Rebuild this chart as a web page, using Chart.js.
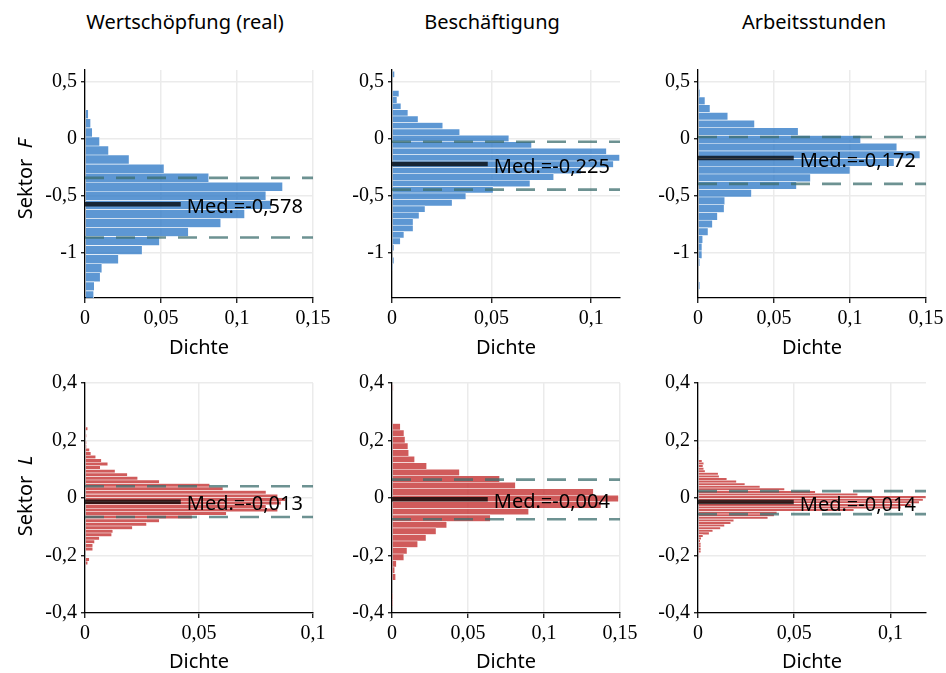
<!DOCTYPE html>
<html>
<head>
<meta charset="utf-8">
<script src="https://cdn.jsdelivr.net/npm/chart.js@4/dist/chart.umd.min.js"></script>
<style>
  html, body { margin: 0; padding: 0; background: #fff; }
  body { width: 946px; height: 673px; position: relative; overflow: hidden; font-family: "Noto Sans", sans-serif; }
  canvas { position: absolute; }
  .ttl { position: absolute; font-size: 20px; color: #000; white-space: nowrap; transform: translate(-50%, -50%); line-height: 1; }
  .row { position: absolute; font-size: 20px; color: #000; white-space: nowrap; transform: translate(-50%, -50%) rotate(-90deg); line-height: 1; }
</style>
</head>
<body>
<script>
// ---------------- DATA ----------------
const columnTitles = ['Wertschöpfung (real)', 'Beschäftigung', 'Arbeitsstunden'];
const rowSectors = ['F', 'L'];
const xAxisLabel = 'Dichte';

const yTicksF = [-1, -0.5, 0, 0.5];
const yTicksL = [-0.4, -0.2, 0, 0.2, 0.4];
const xTicksA = [0, 0.05, 0.1, 0.15];
const xTicksB = [0, 0.05, 0.1];

// Sektor F – Wertschöpfung (real)
const binsFW = [0.211, 0.132, 0.052, -0.027, -0.107, -0.186, -0.266, -0.345, -0.424, -0.504, -0.583, -0.663, -0.742, -0.821, -0.901, -0.980, -1.060, -1.139, -1.218, -1.298, -1.377];
const densFW = [0.0022, 0.0037, 0.0048, 0.0096, 0.0155, 0.0290, 0.0520, 0.0814, 0.1300, 0.1190, 0.1225, 0.1050, 0.0893, 0.0680, 0.0490, 0.0376, 0.0220, 0.0111, 0.0100, 0.0061, 0.0057];

// Sektor F – Beschäftigung
const binsFB = [0.562, 0.3931, 0.3368, 0.2805, 0.2242, 0.1679, 0.1116, 0.0553, -0.001, -0.0573, -0.1136, -0.1699, -0.2262, -0.2825, -0.3388, -0.3951, -0.4514, -0.5077, -0.564, -0.6203, -0.6766, -0.7329, -0.7892, -0.8455, -0.9018, -0.9581, -1.0707, -1.127];
const densFB = [0.0013, 0.0035, 0.0025, 0.0045, 0.0080, 0.0131, 0.0255, 0.0340, 0.0587, 0.0701, 0.1077, 0.1143, 0.1112, 0.0950, 0.0812, 0.0693, 0.0508, 0.0371, 0.0302, 0.0166, 0.0136, 0.0106, 0.0106, 0.0060, 0.0042, 0.0010, 0.0010, 0.0003];

// Sektor F – Arbeitsstunden
const binsFA = [0.464, 0.3965, 0.329, 0.2615, 0.194, 0.1265, 0.059, -0.0085, -0.076, -0.1435, -0.211, -0.2785, -0.346, -0.4135, -0.481, -0.5485, -0.616, -0.6835, -0.751, -0.8185, -0.886, -0.9535, -1.021, -1.0885, -1.291];
const densFA = [0.0007, 0.0013, 0.0046, 0.0079, 0.0196, 0.0372, 0.0659, 0.1070, 0.1308, 0.1460, 0.1290, 0.1000, 0.0740, 0.0648, 0.0352, 0.0176, 0.0172, 0.0128, 0.0095, 0.0066, 0.0031, 0.0026, 0.0026, 0.0011, 0.0011];

// Sektor L – Wertschöpfung (real)
const binsLW = [0.241, 0.2164, 0.1918, 0.1795, 0.1672, 0.1549, 0.1426, 0.1303, 0.118, 0.1057, 0.0934, 0.0811, 0.0688, 0.0565, 0.0442, 0.0319, 0.0196, 0.0073, -0.005, -0.0173, -0.0296, -0.0419, -0.0542, -0.0665, -0.0788, -0.0911, -0.1034, -0.1157, -0.128, -0.1403, -0.1526, -0.1649, -0.1772, -0.2141, -0.2264];
const densLW = [0.0012, 0.0006, 0.0006, 0.0006, 0.0020, 0.0026, 0.0047, 0.0072, 0.0100, 0.0067, 0.0132, 0.0186, 0.0231, 0.0326, 0.0547, 0.0605, 0.0794, 0.0845, 0.0880, 0.0860, 0.0794, 0.0845, 0.0620, 0.0470, 0.0326, 0.0270, 0.0208, 0.0122, 0.0117, 0.0063, 0.0042, 0.0034, 0.0034, 0.0019, 0.0012];

// Sektor L – Beschäftigung
const binsLB = [0.3839, 0.2477, 0.225, 0.2023, 0.1796, 0.1569, 0.1342, 0.1115, 0.0888, 0.0661, 0.0434, 0.0207, -0.002, -0.0247, -0.0474, -0.0701, -0.0928, -0.1155, -0.1382, -0.1609, -0.1836, -0.2063, -0.229, -0.2517, -0.2744, -0.3425, -0.3652];
const densLB = [0.0007, 0.0055, 0.0079, 0.0086, 0.0105, 0.0110, 0.0149, 0.0228, 0.0444, 0.0708, 0.0812, 0.1325, 0.1490, 0.1375, 0.0899, 0.0647, 0.0360, 0.0290, 0.0224, 0.0169, 0.0099, 0.0078, 0.0029, 0.0018, 0.0024, 0.0004, 0.0004];

// Sektor L – Arbeitsstunden
const binsLA = [0.174, 0.165, 0.156, 0.129, 0.120, 0.111, 0.102, 0.093, 0.084, 0.075, 0.066, 0.057, 0.048, 0.039, 0.030, 0.021, 0.012, 0.003, -0.006, -0.015, -0.024, -0.033, -0.042, -0.051, -0.060, -0.069, -0.078, -0.087, -0.096, -0.105, -0.114, -0.123, -0.132, -0.141, -0.150, -0.159, -0.168, -0.177, -0.186, -0.195, -0.204];
const densLA = [0.0005, 0.0005, 0.0005, 0.0021, 0.0030, 0.0026, 0.0030, 0.0037, 0.0105, 0.0110, 0.0150, 0.0200, 0.0244, 0.0322, 0.0450, 0.0610, 0.0830, 0.1185, 0.1170, 0.1150, 0.1107, 0.1055, 0.0810, 0.0410, 0.0396, 0.0363, 0.0186, 0.0170, 0.0138, 0.0117, 0.0077, 0.0058, 0.0026, 0.0017, 0.0012, 0.0015, 0.0015, 0.0015, 0.0015, 0.0005, 0.0005];

// Median and quartiles (rows F, L; columns W, B, A)
const mediansF = [-0.578, -0.225, -0.172];
const mediansL = [-0.013, -0.004, -0.014];
const upperQF = [-0.346, -0.029, 0.012];
const lowerQF = [-0.869, -0.449, -0.399];
const upperQL = [0.041, 0.064, 0.024];
const lowerQL = [-0.066, -0.074, -0.056];

// Axis ranges
const yRangeF = [-1.4, 0.6];
const yRangeL = [-0.4, 0.4];
const xMaxF = [0.15, 0.1145, 0.15];
const xMaxL = [0.1, 0.15, 0.1185];

// ---------------- STYLE / LAYOUT ----------------
const BLUE = 'rgba(52,125,200,0.8)';
const RED = 'rgba(196,50,50,0.8)';
const MED_COLOR = 'rgba(0,0,0,0.75)';
const Q_COLOR = 'rgba(60,110,110,0.75)';
const GRID = '#ebebeb';
const TICK_FONT = { family: '"Liberation Serif", serif', size: 20 };
const SANS = '"Noto Sans", sans-serif';
const MED_FRACTION = 0.42;

const plotLefts = [85, 392, 698];
const PLOT_W = 228;
const rowGeom = [
  { top: 70, h: 228, hx: 62 },
  { top: 383, h: 230, hx: 61 }
];
const WY = 62, PAD_T = 14, PAD_R = 26;

function fmt(v) { return String(v).replace('.', ','); }
function fmt3(v) { return v.toFixed(3).replace('.', ','); }

const panels = [
  { r: 0, c: 0, bins: binsFW, dens: densFW, med: mediansF[0], q3: upperQF[0], q1: lowerQF[0], xMax: xMaxF[0], xTicks: xTicksA, yTicks: yTicksF, yRange: yRangeF, color: BLUE },
  { r: 0, c: 1, bins: binsFB, dens: densFB, med: mediansF[1], q3: upperQF[1], q1: lowerQF[1], xMax: xMaxF[1], xTicks: xTicksB, yTicks: yTicksF, yRange: yRangeF, color: BLUE },
  { r: 0, c: 2, bins: binsFA, dens: densFA, med: mediansF[2], q3: upperQF[2], q1: lowerQF[2], xMax: xMaxF[2], xTicks: xTicksA, yTicks: yTicksF, yRange: yRangeF, color: BLUE },
  { r: 1, c: 0, bins: binsLW, dens: densLW, med: mediansL[0], q3: upperQL[0], q1: lowerQL[0], xMax: xMaxL[0], xTicks: xTicksB, yTicks: yTicksL, yRange: yRangeL, color: RED },
  { r: 1, c: 1, bins: binsLB, dens: densLB, med: mediansL[1], q3: upperQL[1], q1: lowerQL[1], xMax: xMaxL[1], xTicks: xTicksA, yTicks: yTicksL, yRange: yRangeL, color: RED },
  { r: 1, c: 2, bins: binsLA, dens: densLA, med: mediansL[2], q3: upperQL[2], q1: lowerQL[2], xMax: xMaxL[2], xTicks: xTicksB, yTicks: yTicksL, yRange: yRangeL, color: RED }
];

const medLabelPlugin = {
  id: 'medLabel',
  afterDatasetsDraw(chart, args, opts) {
    const xs = chart.scales.x, ys = chart.scales.y;
    const ctx = chart.ctx;
    ctx.save();
    ctx.font = '20px ' + SANS;
    ctx.fillStyle = '#000';
    ctx.textAlign = 'left';
    ctx.textBaseline = 'middle';
    ctx.fillText(opts.text, xs.getPixelForValue(opts.xEnd) + 6, ys.getPixelForValue(opts.median) + 3);
    ctx.restore();
  }
};

panels.forEach(p => {
  const g = rowGeom[p.r];
  const cv = document.createElement('canvas');
  const W = WY + PLOT_W + PAD_R;
  const H = PAD_T + g.h + g.hx;
  cv.width = W; cv.height = H;
  cv.style.left = (plotLefts[p.c] - WY) + 'px';
  cv.style.top = (g.top - PAD_T) + 'px';
  cv.style.width = W + 'px'; cv.style.height = H + 'px';
  document.body.appendChild(cv);

  const medLen = p.xMax * MED_FRACTION;
  const barData = p.bins.map((b, i) => ({ x: p.dens[i], y: b }));

  new Chart(cv, {
    type: 'bar',
    data: {
      datasets: [
        {
          type: 'line', order: 1,
          data: [{ x: 0, y: p.med }, { x: medLen, y: p.med }],
          borderColor: MED_COLOR, borderWidth: 4.5, pointRadius: 0, borderCapStyle: 'butt', fill: false
        },
        {
          type: 'line', order: 2,
          data: [{ x: 0, y: p.q3 }, { x: p.xMax, y: p.q3 }],
          borderColor: Q_COLOR, borderWidth: 2.6, borderDash: [19, 12], pointRadius: 0, borderCapStyle: 'butt', fill: false
        },
        {
          type: 'line', order: 3,
          data: [{ x: 0, y: p.q1 }, { x: p.xMax, y: p.q1 }],
          borderColor: Q_COLOR, borderWidth: 2.6, borderDash: [19, 12], pointRadius: 0, borderCapStyle: 'butt', fill: false
        },
        {
          type: 'bar', order: 4, indexAxis: 'y',
          data: barData,
          backgroundColor: p.color,
          borderColor: 'rgba(255,255,255,0.85)',
          borderWidth: 0.6,
          borderSkipped: 'start',
          barPercentage: 1, categoryPercentage: 1
        }
      ]
    },
    options: {
      responsive: false, animation: false, devicePixelRatio: 1,
      layout: { padding: { left: 0, top: PAD_T, right: PAD_R, bottom: 0 } },
      plugins: {
        legend: { display: false }, tooltip: { enabled: false }, title: { display: false },
        medLabel: { text: 'Med.=' + fmt3(p.med), xEnd: medLen, median: p.med }
      },
      scales: {
        x: {
          type: 'linear', position: 'bottom', min: 0, max: p.xMax, offset: false,
          afterBuildTicks: s => { s.ticks = p.xTicks.map(v => ({ value: v })); },
          afterFit: s => { s.height = g.hx; s.paddingLeft = 0; s.paddingRight = 0; },
          grid: { color: GRID, lineWidth: 1.5, tickColor: '#000', tickLength: 5, tickWidth: 1.2, offset: false },
          border: { display: true, color: '#000', width: 1.3 },
          ticks: { font: TICK_FONT, color: '#000', padding: 4, maxRotation: 0, autoSkip: false, callback: v => fmt(v) },
          title: { display: true, text: xAxisLabel, color: '#000', font: { family: SANS, size: 20 }, padding: { top: 0, bottom: 0 } }
        },
        y: {
          type: 'linear', position: 'left', min: p.yRange[0], max: p.yRange[1], offset: false,
          afterBuildTicks: s => { s.ticks = p.yTicks.map(v => ({ value: v })); },
          afterFit: s => { s.width = WY; s.paddingTop = 0; s.paddingBottom = 0; },
          grid: { color: GRID, lineWidth: 1.5, tickColor: '#000', tickLength: 4, tickWidth: 1.2, offset: false },
          border: { display: true, color: '#000', width: 1.3 },
          ticks: { font: TICK_FONT, color: '#000', padding: 4, autoSkip: false, callback: v => fmt(v) }
        }
      }
    },
    plugins: [medLabelPlugin]
  });
});

// Column titles and row labels
const titleCenters = [185, 492, 814];
columnTitles.forEach((t, i) => {
  const d = document.createElement('div');
  d.className = 'ttl';
  d.textContent = t;
  d.style.left = titleCenters[i] + 'px';
  d.style.top = '22px';
  document.body.appendChild(d);
});
const rowCenters = [179, 496];
rowSectors.forEach((s, i) => {
  const d = document.createElement('div');
  d.className = 'row';
  d.innerHTML = 'Sektor&nbsp;&nbsp;<i>' + s + '</i>';
  d.style.left = '25px';
  d.style.top = rowCenters[i] + 'px';
  document.body.appendChild(d);
});
</script>
</body>
</html>
